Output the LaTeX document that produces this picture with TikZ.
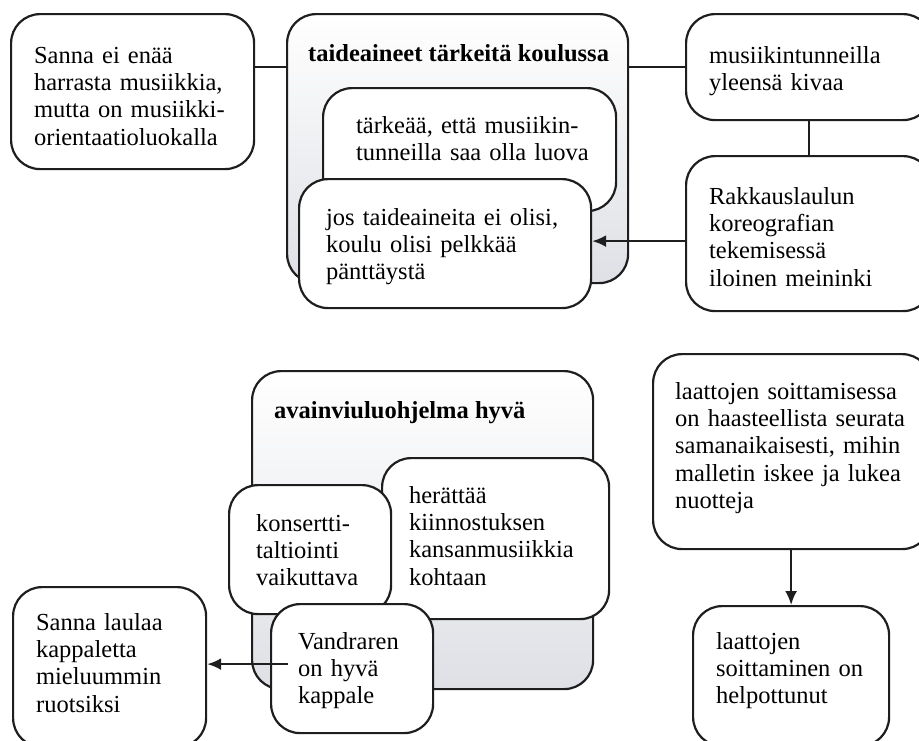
\documentclass[tikz,border=0pt]{standalone}
\usepackage{fontspec}
\setmainfont{Liberation Serif}
\usetikzlibrary{arrows.meta}

\definecolor{ink}{RGB}{30,30,30}
\definecolor{panelgray}{RGB}{222,224,229}

% card={width}{height}{text width}{first baseline}{height minus first baseline}
\tikzset{
  cardbase/.style={draw=ink, line width=2.2pt, rounded corners=29pt, fill=white,
    align=left, inner sep=0pt, anchor=north west,
    font=\fontsize{24.5}{27.3}\selectfont},
  card/.style n args={5}{cardbase, minimum width=#1, minimum height=#2,
    text width=#3, text height=#4, text depth=#5},
  panel/.style={draw=ink, line width=2.2pt, rounded corners=29pt,
    top color=white, bottom color=panelgray, inner sep=0pt, anchor=north west},
  paneltitle/.style={anchor=base west, inner sep=0pt,
    font=\fontsize{24.5}{27.3}\selectfont\bfseries},
  link/.style={draw=ink, line width=2.2pt},
  arr/.style={link, -{Latex[length=14pt,width=12pt]}}
}

\begin{document}
\begin{tikzpicture}[x=1pt,y=-1pt]
\useasboundingbox (0,0) rectangle (919,740);
\clip (0,0) rectangle (919,740);

% ---- upper half ----
\node[card={243pt}{155pt}{197pt}{49pt}{106pt}] (sanna) at (10,13)
  {Sanna ei enää\\ harrasta musiikkia,\\ mutta on musiikki-\\ orientaatioluokalla};

\node[panel, minimum width=341pt, minimum height=269pt] (arts) at (286,13) {};
\node[paneltitle] (artstitle) at (308,61.5) {taideaineet tärkeitä koulussa};

\node[card={293pt}{123pt}{227pt}{45pt}{78pt}] (creative) at (322,87)
  {\mbox{tärkeää, että musiikin-}\\ \mbox{tunneilla saa olla luova}};

\node[card={292pt}{129pt}{238pt}{46pt}{83pt}] (cram) at (298,178)
  {jos taideaineita ei olisi,\\ koulu olisi pelkkää\\ pänttäystä};

\node[card={246pt}{106pt}{200pt}{49pt}{57pt}] (fun) at (685,13)
  {musiikintunneilla\\ yleensä kivaa};

\node[card={246pt}{155pt}{200pt}{48pt}{107pt}] (choreo) at (685,155)
  {Rakkauslaulun\\ koreografian\\ tekemisessä\\ iloinen meininki};

\coordinate (cramin) at ([yshift=2.5pt]cram.east);
\draw[link] (sanna.east |- fun.west) -- (arts.west |- fun.west);
\draw[link] (arts.east |- fun.west) -- (fun.west);
\draw[link] (fun.south) -- (choreo.north);
\draw[arr] (choreo.west |- cramin) -- (cramin);

% ---- lower half ----
\node[panel, minimum width=341pt, minimum height=318pt] (violin) at (251,370) {};
\node[paneltitle] (violintitle) at (274,418) {avainviuluohjelma hyvä};

\node[card={227pt}{161pt}{173pt}{45pt}{116pt}] (folk) at (381,457)
  {herättää\\ kiinnostuksen\\ kansanmusiikkia\\ kohtaan};

\node[card={162pt}{129pt}{108pt}{46pt}{83pt}] (concert) at (228,484)
  {konsertti-\\ taltiointi\\ vaikuttava};

\node[card={162pt}{129pt}{108pt}{45pt}{84pt}] (vandraren) at (270,603)
  {Vandraren\\ on hyvä\\ kappale};

\node[card={193pt}{160pt}{147pt}{43pt}{117pt}] (swedish) at (12,586)
  {Sanna laulaa\\ kappaletta\\ mieluummin\\ ruotsiksi};

\coordinate (vandout) at ([xshift=18pt,yshift=4.5pt]vandraren.west);
\draw[arr] (vandout) -- (swedish.east |- vandout);

\node[card={278pt}{195pt}{234pt}{45pt}{150pt}] (tiles) at (652,353)
  {laattojen soittamisessa\\ on haasteellista seurata\\ samanaikaisesti, mihin\\ malletin iskee ja lukea\\ nuotteja};

\node[card={196pt}{140pt}{150pt}{43pt}{97pt}] (easier) at (692,605)
  {laattojen\\ soittaminen on\\ helpottunut};

\draw[arr] (tiles.south -| easier.north) -- (easier.north);
\end{tikzpicture}
\end{document}
